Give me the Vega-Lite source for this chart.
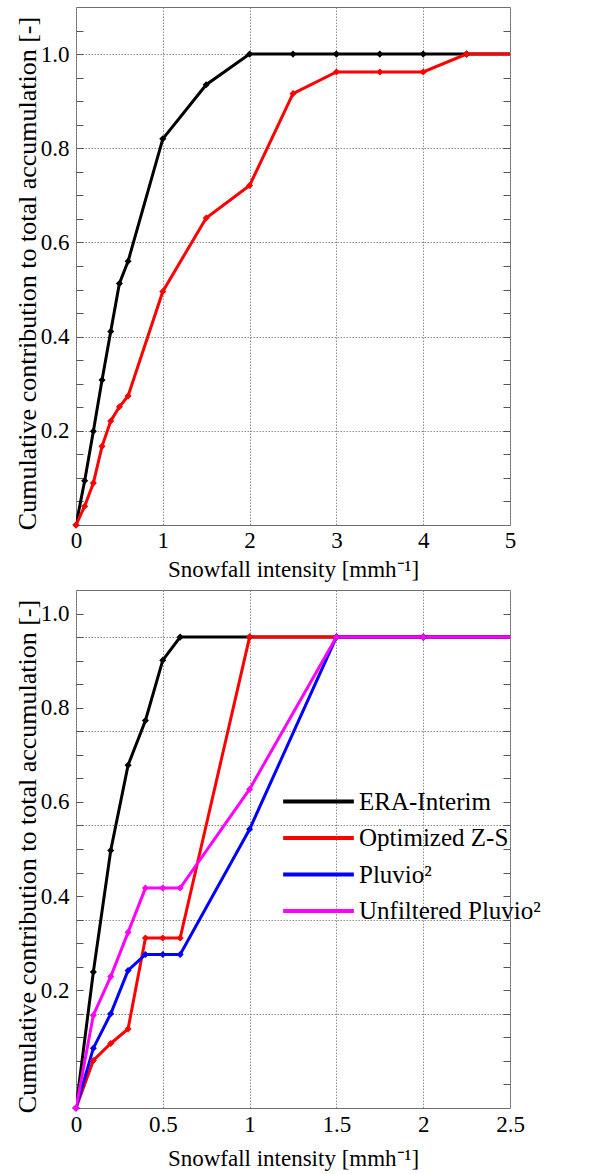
{
  "$schema": "https://vega.github.io/schema/vega-lite/v6.json",
  "padding": {"left": 13, "top": 6, "right": 0, "bottom": 0},
  "background": "white",
  "config": {
    "font": "Liberation Serif",
    "view": {"stroke": "#6e6e6e", "strokeWidth": 1},
    "axis": {
      "labelFont": "Liberation Serif",
      "titleFont": "Liberation Serif",
      "labelColor": "#000",
      "titleColor": "#000",
      "titleFontWeight": "normal",
      "domain": false,
      "labelFontSize": 23,
      "labelOverlap": false,
      "labelBound": false,
      "labelFlush": false
    },
    "axisX": {
      "ticks": false,
      "grid": true,
      "gridColor": "#8c8c8c",
      "gridDash": [1.5, 1.5],
      "gridWidth": 1,
      "labelPadding": 4,
      "titleFontSize": 23,
      "titlePadding": 6
    }
  },
  "datasets": {
    "top": [
      {"series": "ERA-Interim", "x": 0, "y": 0},
      {"series": "ERA-Interim", "x": 0.1, "y": 0.094},
      {"series": "ERA-Interim", "x": 0.2, "y": 0.199},
      {"series": "ERA-Interim", "x": 0.3, "y": 0.308},
      {"series": "ERA-Interim", "x": 0.4, "y": 0.411},
      {"series": "ERA-Interim", "x": 0.5, "y": 0.513},
      {"series": "ERA-Interim", "x": 0.6, "y": 0.56},
      {"series": "ERA-Interim", "x": 1, "y": 0.82},
      {"series": "ERA-Interim", "x": 1.5, "y": 0.935},
      {"series": "ERA-Interim", "x": 2, "y": 1},
      {"series": "ERA-Interim", "x": 2.5, "y": 1},
      {"series": "ERA-Interim", "x": 3, "y": 1},
      {"series": "ERA-Interim", "x": 3.5, "y": 1},
      {"series": "ERA-Interim", "x": 4, "y": 1},
      {"series": "ERA-Interim", "x": 4.5, "y": 1},
      {"series": "ERA-Interim", "x": 5, "y": 1},
      {"series": "Optimized Z-S", "x": 0, "y": 0},
      {"series": "Optimized Z-S", "x": 0.1, "y": 0.04},
      {"series": "Optimized Z-S", "x": 0.2, "y": 0.089},
      {"series": "Optimized Z-S", "x": 0.3, "y": 0.167},
      {"series": "Optimized Z-S", "x": 0.4, "y": 0.221},
      {"series": "Optimized Z-S", "x": 0.5, "y": 0.251},
      {"series": "Optimized Z-S", "x": 0.6, "y": 0.274},
      {"series": "Optimized Z-S", "x": 1, "y": 0.496},
      {"series": "Optimized Z-S", "x": 1.5, "y": 0.652},
      {"series": "Optimized Z-S", "x": 2, "y": 0.721},
      {"series": "Optimized Z-S", "x": 2.5, "y": 0.916},
      {"series": "Optimized Z-S", "x": 3, "y": 0.962},
      {"series": "Optimized Z-S", "x": 3.5, "y": 0.962},
      {"series": "Optimized Z-S", "x": 4, "y": 0.962},
      {"series": "Optimized Z-S", "x": 4.5, "y": 1},
      {"series": "Optimized Z-S", "x": 5, "y": 1}
    ],
    "bottom": [
      {"series": "ERA-Interim", "x": 0, "y": 0},
      {"series": "ERA-Interim", "x": 0.1, "y": 0.289},
      {"series": "ERA-Interim", "x": 0.2, "y": 0.547},
      {"series": "ERA-Interim", "x": 0.3, "y": 0.728},
      {"series": "ERA-Interim", "x": 0.4, "y": 0.823},
      {"series": "ERA-Interim", "x": 0.5, "y": 0.951},
      {"series": "ERA-Interim", "x": 0.6, "y": 1},
      {"series": "ERA-Interim", "x": 1, "y": 1},
      {"series": "ERA-Interim", "x": 1.5, "y": 1},
      {"series": "ERA-Interim", "x": 2, "y": 1},
      {"series": "ERA-Interim", "x": 2.5, "y": 1},
      {"series": "Optimized Z-S", "x": 0, "y": 0},
      {"series": "Optimized Z-S", "x": 0.1, "y": 0.101},
      {"series": "Optimized Z-S", "x": 0.2, "y": 0.137},
      {"series": "Optimized Z-S", "x": 0.3, "y": 0.168},
      {"series": "Optimized Z-S", "x": 0.4, "y": 0.361},
      {"series": "Optimized Z-S", "x": 0.5, "y": 0.361},
      {"series": "Optimized Z-S", "x": 0.6, "y": 0.361},
      {"series": "Optimized Z-S", "x": 1, "y": 1},
      {"series": "Optimized Z-S", "x": 1.5, "y": 1},
      {"series": "Optimized Z-S", "x": 2, "y": 1},
      {"series": "Optimized Z-S", "x": 2.5, "y": 1},
      {"series": "Pluvio²", "x": 0, "y": 0},
      {"series": "Pluvio²", "x": 0.1, "y": 0.127},
      {"series": "Pluvio²", "x": 0.2, "y": 0.2},
      {"series": "Pluvio²", "x": 0.3, "y": 0.292},
      {"series": "Pluvio²", "x": 0.4, "y": 0.326},
      {"series": "Pluvio²", "x": 0.5, "y": 0.326},
      {"series": "Pluvio²", "x": 0.6, "y": 0.326},
      {"series": "Pluvio²", "x": 1, "y": 0.592},
      {"series": "Pluvio²", "x": 1.5, "y": 1},
      {"series": "Pluvio²", "x": 2, "y": 1},
      {"series": "Pluvio²", "x": 2.5, "y": 1},
      {"series": "Unfiltered Pluvio²", "x": 0, "y": 0},
      {"series": "Unfiltered Pluvio²", "x": 0.1, "y": 0.197},
      {"series": "Unfiltered Pluvio²", "x": 0.2, "y": 0.279},
      {"series": "Unfiltered Pluvio²", "x": 0.3, "y": 0.373},
      {"series": "Unfiltered Pluvio²", "x": 0.4, "y": 0.467},
      {"series": "Unfiltered Pluvio²", "x": 0.5, "y": 0.467},
      {"series": "Unfiltered Pluvio²", "x": 0.6, "y": 0.467},
      {"series": "Unfiltered Pluvio²", "x": 1, "y": 0.677},
      {"series": "Unfiltered Pluvio²", "x": 1.5, "y": 1},
      {"series": "Unfiltered Pluvio²", "x": 2, "y": 1},
      {"series": "Unfiltered Pluvio²", "x": 2.5, "y": 1}
    ]
  },
  "resolve": {"scale": {"color": "independent"}, "legend": {"color": "independent"}},
  "spacing": 7,
  "vconcat": [
    {
      "width": 434,
      "height": 518,
      "data": {"name": "top"},
      "layer": [
        {
          "mark": {"type": "line", "strokeWidth": 3, "clip": true},
          "encoding": {
            "x": {"field": "x", "type": "quantitative", "scale": {"domain": [0, 5], "nice": false, "zero": false},
              "axis": {"values": [0, 1, 2, 3, 4, 5], "format": "~g", "title": "Snowfall intensity [mmh⁻¹]", "titlePadding": 6}},
            "y": {"field": "y", "type": "quantitative", "scale": {"domain": [0, 1.1], "nice": false, "zero": false},
              "axis": {"orient": "left",
                "values": [0.05, 0.1, 0.15, 0.2, 0.25, 0.3, 0.35, 0.4, 0.45, 0.5, 0.55, 0.6, 0.65, 0.7, 0.75, 0.8, 0.85, 0.9, 0.95, 1, 1.05],
                "tickSize": -7, "tickColor": "#555", "tickWidth": 1, "labelPadding": 14,
                "labelExpr": "indexof([0.2,0.4,0.6,0.8,1], datum.value) >= 0 ? format(datum.value, '.1f') : ''",
                "grid": true, "gridDash": [1.5, 1.5], "gridColor": "#8c8c8c",
                "gridOpacity": {"condition": {"test": "indexof([0.2,0.4,0.6,0.8,1], datum.value) >= 0", "value": 1}, "value": 0},
                "title": "Cumulative contribution to total accumulation [-]", "titleFontSize": 26, "titlePadding": 0, "titleY": 266}},
            "color": {"field": "series", "type": "nominal",
              "scale": {"domain": ["ERA-Interim", "Optimized Z-S"], "range": ["#000000", "#ff0000"]}, "legend": null}
          }
        },
        {
          "transform": [{"filter": "datum.x < 5"}],
          "mark": {"type": "point", "shape": "diamond", "filled": true, "size": 50, "opacity": 1},
          "encoding": {
            "x": {"field": "x", "type": "quantitative",
              "axis": {"values": [0, 1, 2, 3, 4, 5], "format": "~g", "title": "Snowfall intensity [mmh⁻¹]", "titlePadding": 6}},
            "y": {"field": "y", "type": "quantitative",
              "axis": {"orient": "right",
                "values": [0.05, 0.1, 0.15, 0.2, 0.25, 0.3, 0.35, 0.4, 0.45, 0.5, 0.55, 0.6, 0.65, 0.7, 0.75, 0.8, 0.85, 0.9, 0.95, 1, 1.05],
                "tickSize": -7, "tickColor": "#555", "labels": false, "grid": false, "title": null}},
            "color": {"field": "series", "type": "nominal", "legend": null}
          }
        }
      ],
      "resolve": {"axis": {"y": "independent"}}
    },
    {
      "width": 434,
      "height": 518,
      "data": {"name": "bottom"},
      "layer": [
        {
          "mark": {"type": "line", "strokeWidth": 3, "clip": true},
          "encoding": {
            "x": {"field": "x", "type": "quantitative", "scale": {"domain": [0, 2.5], "nice": false, "zero": false},
              "axis": {"values": [0, 0.5, 1, 1.5, 2, 2.5], "format": "~g", "title": "Snowfall intensity [mmh⁻¹]", "labelPadding": 5, "titlePadding": 11}},
            "y": {"field": "y", "type": "quantitative", "scale": {"domain": [0, 1.1], "nice": false, "zero": false},
              "axis": {"orient": "left",
                "values": [0.05, 0.1, 0.15, 0.2, 0.25, 0.3, 0.35, 0.4, 0.45, 0.5, 0.55, 0.6, 0.65, 0.7, 0.75, 0.8, 0.85, 0.9, 0.95, 1, 1.05],
                "tickSize": -7, "tickColor": "#555", "tickWidth": 1, "labelPadding": 14,
                "labelExpr": "indexof([0.25,0.45,0.65,0.85,1.05], datum.value) >= 0 ? format(datum.value - 0.05, '.1f') : ''",
                "grid": true, "gridDash": [1.5, 1.5], "gridColor": "#8c8c8c",
                "gridOpacity": {"condition": {"test": "indexof([0.2,0.4,0.6,0.8,1], datum.value) >= 0", "value": 1}, "value": 0},
                "title": "Cumulative contribution to total accumulation [-]", "titleFontSize": 26, "titlePadding": 0, "titleY": 266}},
            "color": {"field": "series", "type": "nominal",
              "scale": {"domain": ["ERA-Interim", "Optimized Z-S", "Pluvio²", "Unfiltered Pluvio²"], "range": ["#000000", "#ff0000", "#0000ff", "#ff00ff"]},
              "legend": {"orient": "none", "legendX": 205, "legendY": 194, "title": null,
                "symbolType": "stroke", "symbolSize": 5000, "symbolStrokeWidth": 4, "clipHeight": 35, "rowPadding": 1.5,
                "labelFontSize": 25, "labelFont": "Liberation Serif", "labelColor": "#000", "labelOffset": 3, "padding": 0, "labelLimit": 400}}
          }
        },
        {
          "transform": [{"filter": "datum.x < 2.5"}],
          "mark": {"type": "point", "shape": "diamond", "filled": true, "size": 50, "opacity": 1},
          "encoding": {
            "x": {"field": "x", "type": "quantitative",
              "axis": {"values": [0, 0.5, 1, 1.5, 2, 2.5], "format": "~g", "title": "Snowfall intensity [mmh⁻¹]", "labelPadding": 5, "titlePadding": 11}},
            "y": {"field": "y", "type": "quantitative",
              "axis": {"orient": "right",
                "values": [0.05, 0.1, 0.15, 0.2, 0.25, 0.3, 0.35, 0.4, 0.45, 0.5, 0.55, 0.6, 0.65, 0.7, 0.75, 0.8, 0.85, 0.9, 0.95, 1, 1.05],
                "tickSize": -7, "tickColor": "#555", "labels": false, "grid": false, "title": null}},
            "color": {"field": "series", "type": "nominal", "legend": null}
          }
        }
      ],
      "resolve": {"axis": {"y": "independent"}}
    }
  ]
}
